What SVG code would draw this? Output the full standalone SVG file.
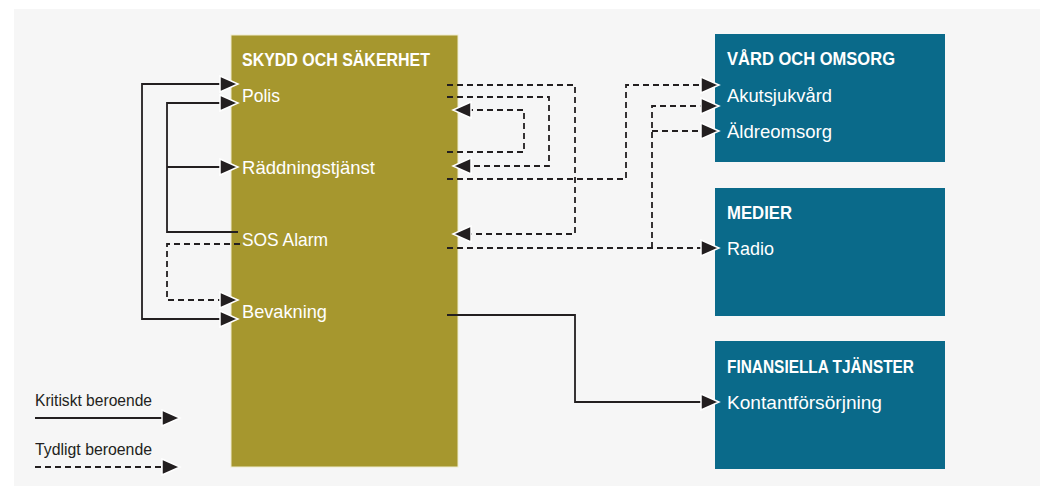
<svg xmlns="http://www.w3.org/2000/svg" width="1040" height="486" viewBox="0 0 1040 486">
<style>
.bg{fill:#f6f6f6}
.olive{fill:#a6972e;stroke:#efeccd;stroke-width:1}
.teal{fill:#0a6a8a}
.h{font-family:"Liberation Sans",Arial,sans-serif;font-weight:bold;font-size:18px;fill:#ffffff}
.t{font-family:"Liberation Sans",Arial,sans-serif;font-size:19px;fill:#ffffff}
.lg{font-family:"Liberation Sans",Arial,sans-serif;font-size:16px;fill:#231f20}
.c{fill:none;stroke:#231f20;stroke-width:1.8}
.d{stroke-dasharray:6 4}
</style>
<defs>
<marker id="arr" markerUnits="userSpaceOnUse" viewBox="0 0 24 22" markerWidth="24" markerHeight="22" refX="16" refY="11" orient="auto-start-reverse">
<path d="M2,3 L20,11 L2,19 Z" fill="#231f20" stroke="#ffffff" stroke-width="1.5" stroke-linejoin="miter"/>
</marker>
</defs>
<rect class="bg" x="14" y="9" width="1026" height="477"/>

<g id="skydd">
<rect class="olive" x="231" y="35" width="227" height="432"/>
<text class="h" x="242" y="66" textLength="188" lengthAdjust="spacingAndGlyphs">SKYDD OCH SÄKERHET</text>
<text class="t" x="242" y="102" textLength="38" lengthAdjust="spacingAndGlyphs">Polis</text>
<text class="t" x="242" y="174" textLength="133" lengthAdjust="spacingAndGlyphs">Räddningstjänst</text>
<text class="t" x="242" y="246" textLength="86" lengthAdjust="spacingAndGlyphs">SOS Alarm</text>
<text class="t" x="242" y="318" textLength="85" lengthAdjust="spacingAndGlyphs">Bevakning</text>
</g>

<g id="vard">
<rect class="teal" x="715" y="34" width="230" height="128"/>
<text class="h" x="727" y="65" textLength="168" lengthAdjust="spacingAndGlyphs">VÅRD OCH OMSORG</text>
<text class="t" x="727" y="102" textLength="105" lengthAdjust="spacingAndGlyphs">Akutsjukvård</text>
<text class="t" x="727" y="138" textLength="105" lengthAdjust="spacingAndGlyphs">Äldreomsorg</text>
</g>

<g id="medier">
<rect class="teal" x="715" y="188" width="230" height="128"/>
<text class="h" x="727" y="219" textLength="65" lengthAdjust="spacingAndGlyphs">MEDIER</text>
<text class="t" x="727" y="255" textLength="47" lengthAdjust="spacingAndGlyphs">Radio</text>
</g>

<g id="finans">
<rect class="teal" x="715" y="341" width="230" height="128"/>
<text class="h" x="727" y="373" textLength="187" lengthAdjust="spacingAndGlyphs">FINANSIELLA TJÄNSTER</text>
<text class="t" x="727" y="409" textLength="155" lengthAdjust="spacingAndGlyphs">Kontantförsörjning</text>
</g>

<g id="connectors">
<path class="c" d="M234,84 H142 V319 H234" marker-start="url(#arr)" marker-end="url(#arr)"/>
<path class="c" d="M238,232 H167 V103 H234" marker-end="url(#arr)"/>
<path class="c" d="M167,167 H234" marker-end="url(#arr)"/>
<path class="c" d="M447,315 H575 V402 H715" marker-end="url(#arr)"/>
<path class="c d" d="M240,244 H167 V300 H234" marker-end="url(#arr)"/>
<path class="c d" d="M447,85 H575 V234 H457" marker-end="url(#arr)"/>
<path class="c d" d="M447,97 H549 V166 H457" marker-end="url(#arr)"/>
<path class="c d" d="M447,152 H524 V110 H457" marker-end="url(#arr)"/>
<path class="c d" d="M447,179 H626 V85 H715" marker-end="url(#arr)"/>
<path class="c d" d="M447,248 H715" marker-end="url(#arr)"/>
<path class="c d" d="M652,248 V106 H715" marker-end="url(#arr)"/>
<path class="c d" d="M652,131 H715" marker-end="url(#arr)"/>
</g>

<g id="legend">
<text class="lg" x="35" y="406" textLength="117" lengthAdjust="spacingAndGlyphs">Kritiskt beroende</text>
<path class="c" d="M35,418 H176" marker-end="url(#arr)"/>
<text class="lg" x="35" y="455" textLength="117" lengthAdjust="spacingAndGlyphs">Tydligt beroende</text>
<path class="c d" d="M35,467 H176" marker-end="url(#arr)"/>
</g>
</svg>
